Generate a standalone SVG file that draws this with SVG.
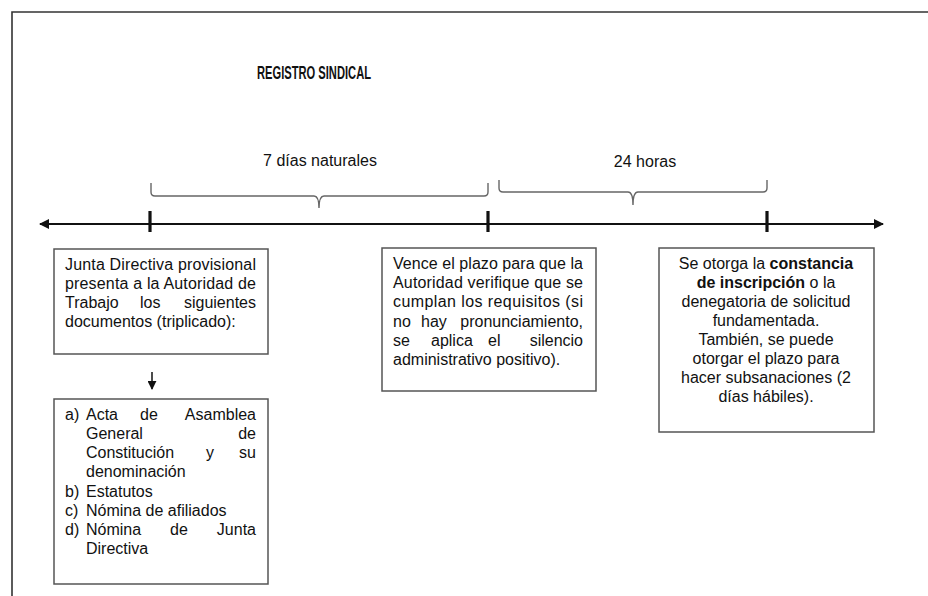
<svg xmlns="http://www.w3.org/2000/svg" width="928" height="596" viewBox="0 0 928 596">
<style>
text{font-family:"Liberation Sans",Arial,sans-serif;font-size:16px;fill:#111}
.title{font-weight:bold;font-size:18px}
.box{fill:#fff;stroke:#555;stroke-width:1.5}
.brace{fill:none;stroke:#666;stroke-width:1.4}
.axis{stroke:#111;stroke-width:2;fill:none}
.tick{stroke:#111;stroke-width:3.2}
.e{text-anchor:end}
.c{text-anchor:middle}
</style>
<defs>
<marker id="ah" viewBox="0 0 10 10" refX="9" refY="5" markerWidth="5" markerHeight="5" orient="auto-start-reverse" markerUnits="strokeWidth">
<path d="M0,0 L10,5 L0,10 Z" fill="#111"/>
</marker>
<marker id="ah2" viewBox="0 0 10 10" refX="9" refY="5" markerWidth="6" markerHeight="6" orient="auto" markerUnits="strokeWidth">
<path d="M0,0 L10,5 L0,10 Z" fill="#111"/>
</marker>
</defs>
<rect width="928" height="596" fill="#fff"/>
<path d="M12,596 V12 H928" fill="none" stroke="#333" stroke-width="1.6"/>
<text class="title" x="257" y="79" textLength="114" lengthAdjust="spacingAndGlyphs">REGISTRO SINDICAL</text>

<g id="connectors">
<line class="axis" x1="40" y1="224" x2="883" y2="224" marker-start="url(#ah)" marker-end="url(#ah)"/>
<line class="tick" x1="150" y1="211" x2="150" y2="232"/>
<line class="tick" x1="488" y1="211" x2="488" y2="232"/>
<line class="tick" x1="767" y1="211" x2="767" y2="232"/>
<path class="brace" d="M151,183 V192 Q151,196 155,196 H314 Q319,196 319,208 Q319,196 324,196 H484 Q488,196 488,192 V183"/>
<path class="brace" d="M499,180 V188 Q499,192 503,192 H628 Q633,192 633,205 Q633,192 638,192 H763 Q767,192 767,188 V180"/>
<line x1="152" y1="372" x2="152" y2="389" stroke="#111" stroke-width="1.5" marker-end="url(#ah2)"/>
</g>

<g id="label-7dias"><text class="c" x="320" y="166">7 días naturales</text></g>
<g id="label-24h"><text class="c" x="645" y="167">24 horas</text></g>

<g id="node-junta">
<rect class="box" x="54" y="249" width="214" height="105"/>
<text x="65" y="270" textLength="191" lengthAdjust="spacing">Junta Directiva provisional</text>
<text x="65" y="289" textLength="191" lengthAdjust="spacing">presenta a la Autoridad de</text>
<text y="308"><tspan x="65">Trabajo</tspan><tspan x="140">los</tspan><tspan x="256" class="e">siguientes</tspan></text>
<text x="65" y="327">documentos (triplicado):</text>
</g>

<g id="node-documentos">
<rect class="box" x="54" y="399" width="214" height="185"/>
<text y="420"><tspan x="65">a)</tspan><tspan x="86">Acta</tspan><tspan x="140">de</tspan><tspan x="256" class="e">Asamblea</tspan></text>
<text y="439"><tspan x="86">General</tspan><tspan x="256" class="e">de</tspan></text>
<text y="458"><tspan x="86">Constitución</tspan><tspan x="206">y</tspan><tspan x="256" class="e">su</tspan></text>
<text y="477"><tspan x="86">denominación</tspan></text>
<text y="497"><tspan x="65">b)</tspan><tspan x="86">Estatutos</tspan></text>
<text y="516"><tspan x="65">c)</tspan><tspan x="86">Nómina de afiliados</tspan></text>
<text y="535"><tspan x="65">d)</tspan><tspan x="86">Nómina</tspan><tspan x="170">de</tspan><tspan x="256" class="e">Junta</tspan></text>
<text y="554"><tspan x="86">Directiva</tspan></text>
</g>

<g id="node-vence">
<rect class="box" x="382" y="248" width="214" height="143"/>
<text x="393" y="269" textLength="190" lengthAdjust="spacing">Vence el plazo para que la</text>
<text x="393" y="288" textLength="190" lengthAdjust="spacing">Autoridad verifique que se</text>
<text x="393" y="307" textLength="190" lengthAdjust="spacing">cumplan los requisitos (si</text>
<text y="327"><tspan x="393">no</tspan><tspan x="421">hay</tspan><tspan x="583" class="e">pronunciamiento,</tspan></text>
<text y="346"><tspan x="393">se</tspan><tspan x="431">aplica</tspan><tspan x="488">el</tspan><tspan x="583" class="e">silencio</tspan></text>
<text x="393" y="365">administrativo positivo).</text>
</g>

<g id="node-constancia">
<rect class="box" x="659" y="248" width="215" height="184"/>
<text class="c" x="766" y="269">Se otorga la <tspan font-weight="bold">constancia</tspan></text>
<text class="c" x="766" y="288"><tspan font-weight="bold">de inscripción</tspan> o la</text>
<text class="c" x="766" y="307">denegatoria de solicitud</text>
<text class="c" x="766" y="326">fundamentada.</text>
<text class="c" x="766" y="345">También, se puede</text>
<text class="c" x="766" y="364">otorgar el plazo para</text>
<text class="c" x="766" y="383">hacer subsanaciones (2</text>
<text class="c" x="766" y="402">días hábiles).</text>
</g>
</svg>
